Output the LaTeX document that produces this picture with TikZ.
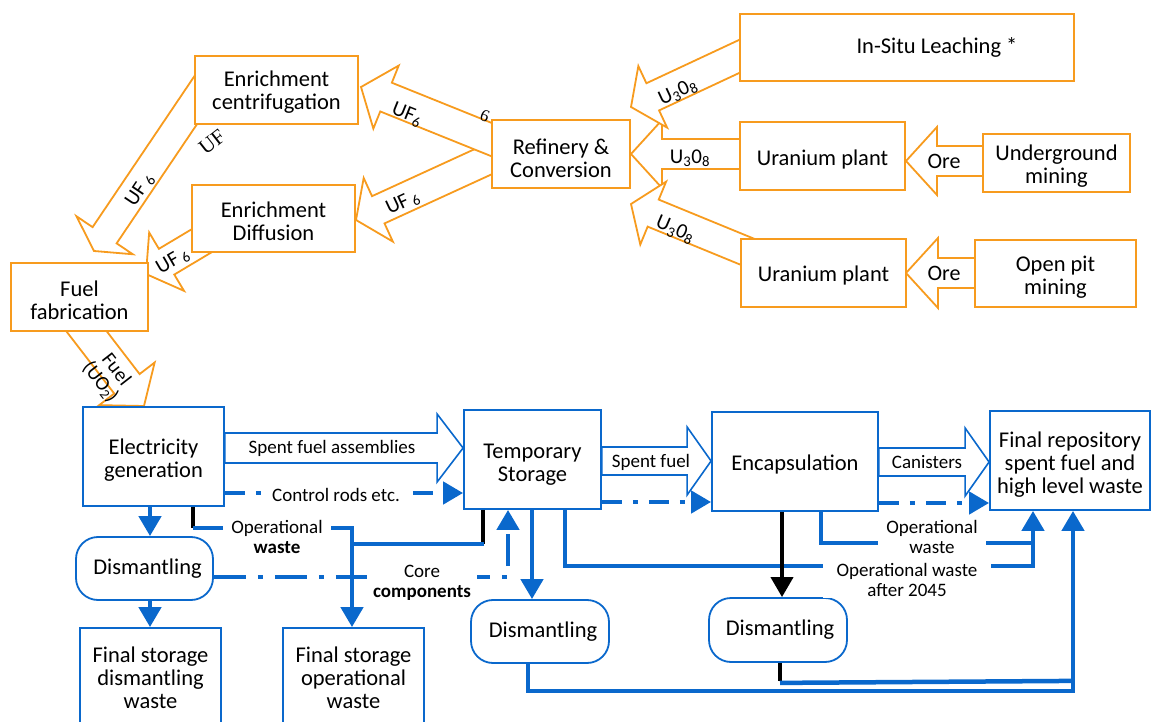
\documentclass[tikz,border=0pt]{standalone}
\usepackage{fontspec}
\setmainfont{Carlito}
\newfontfamily\serifx{Liberation Serif}
\usetikzlibrary{calc,arrows.meta}
\pgfdeclarelayer{bg}
\pgfsetlayers{bg,main}
\definecolor{orng}{RGB}{247,155,30}
\definecolor{bl}{RGB}{10,104,204}
% #1 style, #2 tail, #3 tip, #4 shaft half width, #5 head half width, #6 head length
\newcommand\blockarrow[6][]{%
  \coordinate (bahb) at ($(#3)!#6!(#2)$);
  \draw[#1] ($(#2)!#4!90:(#3)$) -- ($(bahb)!#4!90:(#3)$) -- ($(bahb)!#5!90:(#3)$) -- (#3)
    -- ($(bahb)!#5!-90:(#3)$) -- ($(bahb)!#4!-90:(#3)$) -- ($(#2)!#4!-90:(#3)$) -- cycle;}
\tikzset{
  txt/.style={font=\fontsize{22.5}{23}\selectfont, align=center, inner sep=0pt},
  obox/.style={txt, draw=orng, line width=1.8pt, fill=white},
  blbox/.style={txt, draw=bl, line width=1.8pt, fill=white},
  rbox/.style={blbox, rounded corners=22pt},
  oarr/.style={draw=orng, line width=1.8pt, fill=white, line join=miter},
  barr/.style={draw=bl, line width=1.6pt, fill=white, line join=miter},
  lbl/.style={font=\fontsize{19}{20.5}\selectfont, align=center, inner sep=1pt},
  olbl/.style={font=\fontsize{21}{21}\selectfont, inner sep=0pt},
  bline/.style={draw=bl, line width=4.5pt},
  kline/.style={draw=black, line width=4pt},
  headtri/.style={-{Triangle[length=20pt,width=22pt]}},
  bdd/.style={bline, dash pattern=on 20pt off 11pt on 5pt off 11pt},
  bdd2/.style={bline, dash pattern=on 32pt off 12pt on 5pt off 12pt},
  intext/.style 2 args={label={[txt,yshift=-#1pt]center:{#2}}},
}
\begin{document}
\begin{tikzpicture}[x=1pt,y=-1pt]
\path[use as bounding box] (0,0) rectangle (1152,722);
\clip (0,0) rectangle (1152,722);

% ---------- orange boxes ----------
\node[obox, minimum width=163pt, minimum height=68pt, intext={2}{Enrichment\\centrifugation}] (encC) at (276.5,90) {};
\node[obox, minimum width=163pt, minimum height=67pt, intext={3}{Enrichment\\Diffusion}] (encD) at (273.5,218.5) {};
\node[obox, minimum width=137pt, minimum height=68pt, intext={3}{Fuel\\fabrication}] (fuel) at (79.5,297) {};
\node[obox, minimum width=138pt, minimum height=68pt, intext={4}{Refinery \&\\Conversion}] (ref) at (561,154) {};
\node[obox, minimum width=334pt, minimum height=67pt] (isl) at (907,47.5) {\hspace*{60pt}In-Situ Leaching *};
\node[obox, minimum width=165pt, minimum height=68pt, intext={4}{Uranium plant}] (up1) at (822.5,156) {};
\node[obox, minimum width=147pt, minimum height=58pt, intext={3}{Underground\\mining}] (ug) at (1056.5,163) {};
\node[obox, minimum width=165pt, minimum height=68pt, intext={3}{Uranium plant}] (up2) at (823.5,273) {};
\node[obox, minimum width=161pt, minimum height=67pt, intext={4}{Open pit\\mining}] (op) at (1055.5,273.5) {};

% ---------- orange block arrows (behind boxes) ----------
\begin{pgfonlayer}{bg}
\coordinate (a1t) at (212,76);   \coordinate (a1h) at (94,251);
\coordinate (a2t) at (218,231);  \coordinate (a2h) at (146,274);
\coordinate (aAt) at (500,143);  \coordinate (aAh) at (361,87);
\coordinate (aBt) at (500,154);  \coordinate (aBh) at (356,220);
\coordinate (aCt) at (760,46.7); \coordinate (aCh) at (631,107);
\coordinate (aDt) at (760,154);  \coordinate (aDh) at (631,154);
\coordinate (aEt) at (765,259);  \coordinate (aEh) at (631,204);
\coordinate (o1t) at (990,161);  \coordinate (o1h) at (906,161);
\coordinate (o2t) at (982,273);  \coordinate (o2h) at (906,273);
\coordinate (aFt) at (74,315);   \coordinate (aFh) at (144,406);
\blockarrow[oarr]{a1t}{a1h}{14.5pt}{34pt}{19pt}
\blockarrow[oarr]{a2t}{a2h}{15pt}{34pt}{24pt}
\blockarrow[oarr]{aBt}{aBh}{15pt}{35pt}{24.5pt}
\blockarrow[oarr]{aAt}{aAh}{15.5pt}{34pt}{27pt}
\blockarrow[oarr]{aDt}{aDh}{15pt}{34pt}{31pt}
\blockarrow[oarr]{aCt}{aCh}{15pt}{34pt}{24pt}
\blockarrow[oarr]{aEt}{aEh}{14.6pt}{34pt}{24pt}
\blockarrow[oarr]{o1t}{o1h}{15pt}{34pt}{31pt}
\blockarrow[oarr]{o2t}{o2h}{15pt}{35pt}{32pt}
\blockarrow[oarr]{aFt}{aFh}{16pt}{35pt}{28pt}
\end{pgfonlayer}

% ---------- orange labels ----------
\node[olbl, rotate=56] at (140,190) {UF\,\textsubscript{6}};
\node[olbl, rotate=30] at (173,261) {UF\,\textsubscript{6}};
\node[olbl, rotate=-22] at (407,115) {UF\textsubscript{6}};
\node[olbl, rotate=25] at (403,203) {UF\,\textsubscript{6}};
\node[font=\serifx\fontsize{21}{21}\selectfont, inner sep=0pt, rotate=38] at (212,142) {UF};
\node[font=\serifx\fontsize{17}{17}\selectfont, inner sep=0pt, rotate=-22] at (485,116) {6};
\node[olbl, rotate=25] at (678,92) {U\textsubscript{3}0\textsubscript{8}};
\node[olbl] at (690,158) {U\textsubscript{3}0\textsubscript{8}};
\node[olbl, rotate=-23] at (675,230) {U\textsubscript{3}0\textsubscript{8}};
\node[olbl, font=\fontsize{22}{22}\selectfont] at (944,161) {Ore};
\node[olbl, font=\fontsize{22}{22}\selectfont] at (944,273) {Ore};
\node[olbl, font=\fontsize{20}{20}\selectfont, align=center, rotate=-52] at (108,376) {Fuel\\(UO\textsubscript{2})};

% ---------- blue boxes ----------
\node[blbox, minimum width=141pt, minimum height=99pt, intext={4}{Electricity\\generation}] (elec) at (153.5,456.5) {};
\node[blbox, minimum width=137pt, minimum height=99pt, intext={5}{Temporary\\Storage}] (temp) at (532.5,459.5) {};
\node[blbox, minimum width=166pt, minimum height=99pt, intext={3}{Encapsulation}] (enc) at (795,461.5) {};
\node[blbox, minimum width=160pt, minimum height=99pt, intext={4}{Final repository\\spent fuel and\\high level waste}] (repo) at (1070,460.5) {};
\node[rbox, minimum width=137pt, minimum height=63pt] (dis1) at (144.5,568.5) {\hspace*{6pt}Dismantling};
\node[rbox, minimum width=138pt, minimum height=63pt] (dis2) at (540,631.5) {\hspace*{6pt}Dismantling};
\node[rbox, minimum width=138pt, minimum height=64pt] (dis3) at (778,630) {\hspace*{4pt}Dismantling};
\node[blbox, minimum width=141pt, minimum height=100pt] (fsd) at (150.5,678) {Final storage\\dismantling\\waste};
\node[blbox, minimum width=141pt, minimum height=100pt] (fso) at (353.5,678) {Final storage\\operational\\waste};

% ---------- blue block arrows ----------
\coordinate (s1t) at ([yshift=8.5pt]elec.east);  \coordinate (s1h) at ([yshift=11.5pt]temp.west);
\coordinate (s2t) at ([yshift=-1.5pt]temp.east); \coordinate (s2h) at ([yshift=0.5pt]enc.west);
\coordinate (s3t) at ([yshift=-0.5pt]enc.east);  \coordinate (s3h) at ([yshift=-1.5pt]repo.west);
\blockarrow[barr]{s1t}{s1h}{15pt}{34pt}{26pt}
\blockarrow[barr]{s2t}{s2h}{14pt}{34pt}{24pt}
\blockarrow[barr]{s3t}{s3h}{14pt}{34pt}{24pt}

% ---------- thick connectors ----------
\draw[bline, headtri] ([xshift=-3.5pt]elec.south) -- ([xshift=5.5pt]dis1.north);
\draw[bline, headtri] ([xshift=5.5pt]dis1.south) -- ([xshift=-0.5pt]fsd.north);
\draw[kline] ([xshift=39.5pt]elec.south) -- ++(0,21) coordinate (ow1);
\draw[bline, headtri] (ow1) -| ([xshift=-1.5pt]fso.north);
\draw[kline] ([xshift=-49.5pt]temp.south) -- ++(0,34) coordinate (ow2);
\draw[bline] ([xshift=1pt]ow2) -- ++(-133,0);
\draw[bdd2, headtri] ([yshift=-8.5pt]dis1.east) -| ([xshift=-24.5pt]temp.south);
\draw[bline, headtri] ([xshift=-0.5pt]temp.south) -- ([xshift=-8pt]dis2.north);
\draw[bline, headtri] ([xshift=32.5pt]temp.south) |- ([xshift=-37pt,yshift=-55pt]repo.south) -- ([xshift=-37pt]repo.south);
\draw[bline] ([xshift=26pt]enc.south) |- ([xshift=-37pt,yshift=-32pt]repo.south);
\draw[kline, headtri] ([xshift=-13pt]enc.south) -- ([xshift=4pt]dis3.north);
\draw[bline, headtri] ([xshift=-12pt]dis2.south) |- ([xshift=3pt,yshift=-180pt]repo.south) -- ([xshift=3pt]repo.south);
\draw[kline] ([xshift=2pt]dis3.south) -- ++(0,18) coordinate (ow3);
\draw[bline] ([yshift=-2pt]ow3) -- ([xshift=3pt,yshift=-170pt]repo.south);
\draw[bdd, headtri] ([yshift=-36.5pt]elec.east) -- ([yshift=-33.5pt]temp.west);
\draw[bdd, headtri] ([yshift=-42.5pt]temp.east) -- ([yshift=-40.5pt]enc.west);
\draw[bdd, headtri] ([yshift=-41.5pt]enc.east) -- ([yshift=-42.5pt]repo.west);

% ---------- labels ----------
\node[lbl] at (332,448) {Spent fuel assemblies};
\node[lbl] at (651,462) {Spent fuel};
\node[lbl] at (927,462) {Canisters};
\node[lbl, fill=white, inner xsep=6pt] at (336,495) {Control rods etc.};
\node[lbl, fill=white, inner xsep=8pt] at (277,537) {Operational\\\textbf{waste}};
\node[lbl, fill=white, inner xsep=6pt] at (422,583) {Core\\\textbf{components}};
\node[lbl, fill=white, inner xsep=8pt] at (932,537) {Operational\\waste};
\node[lbl, fill=white, inner xsep=14pt] at (907,580) {Operational waste\\after 2045};
\end{tikzpicture}
\end{document}
